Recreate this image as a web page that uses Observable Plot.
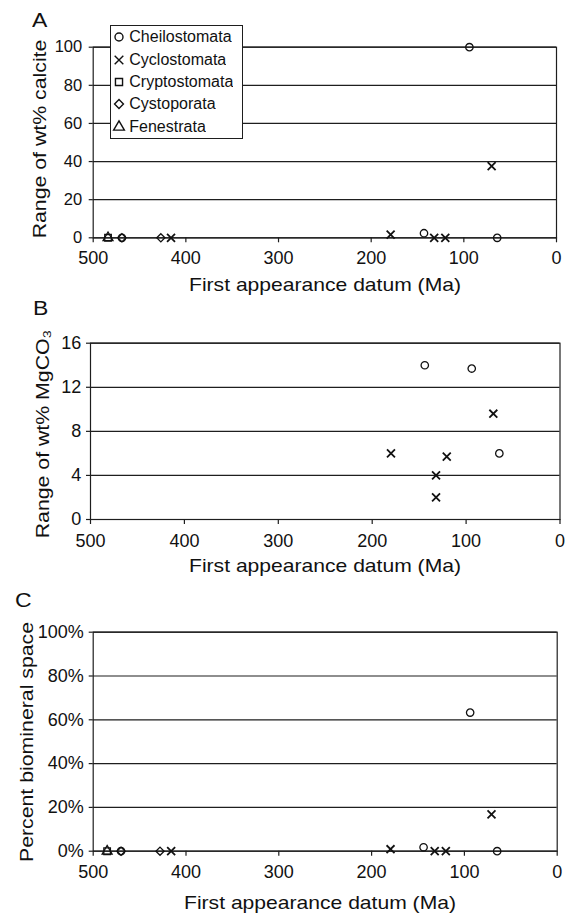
<!DOCTYPE html>
<html>
<head>
<meta charset="utf-8">
<script src="https://cdn.jsdelivr.net/npm/d3@7"></script>
<script src="https://cdn.jsdelivr.net/npm/@observablehq/plot@0.6"></script>
<style>
html, body { margin: 0; padding: 0; background: #fff; }
#root { position: relative; width: 574px; height: 915px; overflow: hidden; font-family: "Liberation Sans", Arial, sans-serif; color: #111; }
.panel { position: absolute; left: 0; }
.lbl { position: absolute; line-height: 1; white-space: nowrap; color: #111; }
.letter { font-size: 20px; transform-origin: 0 0; transform: scaleX(1.15); }
.xtitle { font-size: 19px; transform: translateX(-50%) scaleX(1.11); }
.ytitle { font-size: 19px; transform: translate(-50%, -50%) rotate(-90deg) scaleX(1.12); }
.legbox { position: absolute; left: 110px; top: 25px; width: 133px; height: 114px; box-sizing: border-box; border: 1px solid #1e1e1e; background: #fff; overflow: hidden; }
.legbox .lg-swatches { margin: 0 !important; font-size: 16px !important; font-family: "Liberation Sans", Arial, sans-serif !important; color: #111 !important; }
.legbox .lg-swatch { display: flex !important; align-items: center !important; height: 22.4px !important; padding: 0 0 0 0.3px !important; margin: 0 !important; }
.legbox .lg-swatch svg { margin-right: 2px !important; flex-shrink: 0; }
.legbox .lg-swatch-label { white-space: nowrap; }
</style>
</head>
<body>
<div id="root"></div>
<script>
// ---- data ----
const groups = ["Cheilostomata", "Cyclostomata", "Cryptostomata", "Cystoporata", "Fenestrata"];
const groupSymbols = ["circle", "times", "square", "diamond2", "triangle"];
const xTicks = [500, 400, 300, 200, 100, 0];
const xTickLabels = ["500", "400", "300", "200", "100", "0"];

// Panel A: range of wt% calcite
const calciteGroup = ["Cryptostomata", "Fenestrata", "Cheilostomata", "Cystoporata", "Cystoporata", "Cyclostomata",
  "Cyclostomata", "Cheilostomata", "Cyclostomata", "Cyclostomata", "Cheilostomata", "Cyclostomata", "Cheilostomata"];
const calciteAge = [484, 484, 469, 469, 427, 416, 179, 143, 132, 120, 94, 70, 64];
const calciteRange = [0, 0, 0, 0, 0, 0, 1.7, 2.4, 0, 0, 100, 37.6, 0];
const calciteTicks = [0, 20, 40, 60, 80, 100];
const calciteTickLabels = ["0", "20", "40", "60", "80", "100"];

// Panel B: range of wt% MgCO3
const mgGroup = ["Cheilostomata", "Cheilostomata", "Cyclostomata", "Cheilostomata", "Cyclostomata", "Cyclostomata", "Cyclostomata", "Cyclostomata"];
const mgAge = [144, 94, 71, 64.6, 180, 120.6, 132, 132];
const mgRange = [14.0, 13.7, 9.6, 6.0, 6.0, 5.7, 4.0, 2.0];
const mgTicks = [0, 4, 8, 12, 16];
const mgTickLabels = ["0", "4", "8", "12", "16"];

// Panel C: percent biomineral space
const spaceGroup = ["Cryptostomata", "Fenestrata", "Cheilostomata", "Cystoporata", "Cystoporata", "Cyclostomata",
  "Cyclostomata", "Cheilostomata", "Cyclostomata", "Cyclostomata", "Cheilostomata", "Cyclostomata", "Cheilostomata"];
const spaceAge = [485, 485, 470, 470, 428, 416, 179.6, 144, 132, 120, 93.8, 70.8, 64.7];
const spacePercent = [0, 0, 0, 0, 0, 0, 0.9, 1.8, 0, 0, 63.3, 16.8, 0];
const spaceTicks = [0, 20, 40, 60, 80, 100];
const spaceTickLabels = ["0%", "20%", "40%", "60%", "80%", "100%"];

const xTitle = "First appearance datum (Ma)";

// ---- drawing ----
const root = document.getElementById("root");
const INK = "#1e1e1e";
const FONT = "'Liberation Sans', Arial, sans-serif";

function rowsOf(g, a, v) { return g.map((d, i) => ({group: d, age: a[i], value: v[i]})); }

function panel(rows, o) {
  const svg = Plot.plot({
    width: 574, height: o.height,
    marginTop: o.mt, marginBottom: o.mb, marginLeft: o.ml, marginRight: o.mr,
    style: {fontFamily: FONT, color: "#111", background: "transparent", overflow: "visible"},
    x: {domain: [500, 0]},
    y: {domain: [o.yTicks[0], o.yTicks[o.yTicks.length - 1]]},
    symbol: {domain: groups, range: groupSymbols},
    marks: [
      Plot.gridY(o.yTicks, {stroke: INK, strokeOpacity: 1, strokeWidth: 1.2}),
      Plot.frame({stroke: INK, strokeWidth: 1.2}),
      Plot.axisX(xTicks, {tickSize: 5, tickPadding: o.xPad, fontSize: 18, label: null, stroke: INK, strokeWidth: 1.2,
        tickFormat: d => xTickLabels[xTicks.indexOf(d)]}),
      Plot.axisY(o.yTicks, {tickSize: 4, tickPadding: o.yPad, fontSize: o.yFont, label: null, stroke: INK, strokeWidth: 1.2,
        tickFormat: d => o.yLabels[o.yTicks.indexOf(d)]}),
      Plot.dot(rows, {x: "age", y: "value", symbol: "group", r: 3.7, fill: "none", stroke: "#111",
        strokeWidth: d => d.group === "Cyclostomata" ? 1.8 : 1.3})
    ]
  });
  svg.classList.add("panel");
  svg.style.top = o.top + "px";
  root.appendChild(svg);
  return svg;
}

panel(rowsOf(calciteGroup, calciteAge, calciteRange), {top: 0, height: 300, mt: 46.7, mb: 62.7, ml: 92.7, mr: 18,
  yTicks: calciteTicks, yLabels: calciteTickLabels, yFont: 16.5, yPad: 7, xPad: 8});
panel(rowsOf(mgGroup, mgAge, mgRange), {top: 300, height: 280, mt: 42.7, mb: 61, ml: 90, mr: 14.5,
  yTicks: mgTicks, yLabels: mgTickLabels, yFont: 18, yPad: 5.3, xPad: 10});
panel(rowsOf(spaceGroup, spaceAge, spacePercent), {top: 580, height: 335, mt: 51.7, mb: 64.3, ml: 92.7, mr: 17.3,
  yTicks: spaceTicks, yLabels: spaceTickLabels, yFont: 18, yPad: 5.4, xPad: 9.5});

function label(text, cls, left, top) {
  const d = document.createElement("div");
  d.className = "lbl " + cls;
  d.textContent = text;
  d.style.left = left + "px";
  d.style.top = top + "px";
  root.appendChild(d);
  return d;
}

// panel letters (baseline = top + 0.8465 * fontSize)
label("A", "letter", 31.7, 26.7 - 16.9);
label("B", "letter", 32.7, 315 - 16.9);
label("C", "letter", 15, 607 - 16.9);

// x titles
label(xTitle, "xtitle", 324.5, 291 - 16.1);
label(xTitle, "xtitle", 324.8, 571.6 - 16.1);
label(xTitle, "xtitle", 320, 909 - 16.1);

// y titles
label("Range of wt% calcite", "ytitle", 38.5, 138.5);
label("Range of wt% MgCO\u2083", "ytitle", 41.5, 433.5);
label("Percent biomineral space", "ytitle", 25.5, 742);

// legend
const legbox = document.createElement("div");
legbox.className = "legbox";
try {
  const lg = Plot.legend({
    symbol: {domain: groups, range: groupSymbols},
    columns: 1, className: "lg", swatchSize: 16, r: 4, strokeWidth: 1.4, stroke: "#111", fill: "none"
  });
  legbox.appendChild(lg);
} catch (e) {
  console.error(e);
}
root.appendChild(legbox);
</script>
</body>
</html>
